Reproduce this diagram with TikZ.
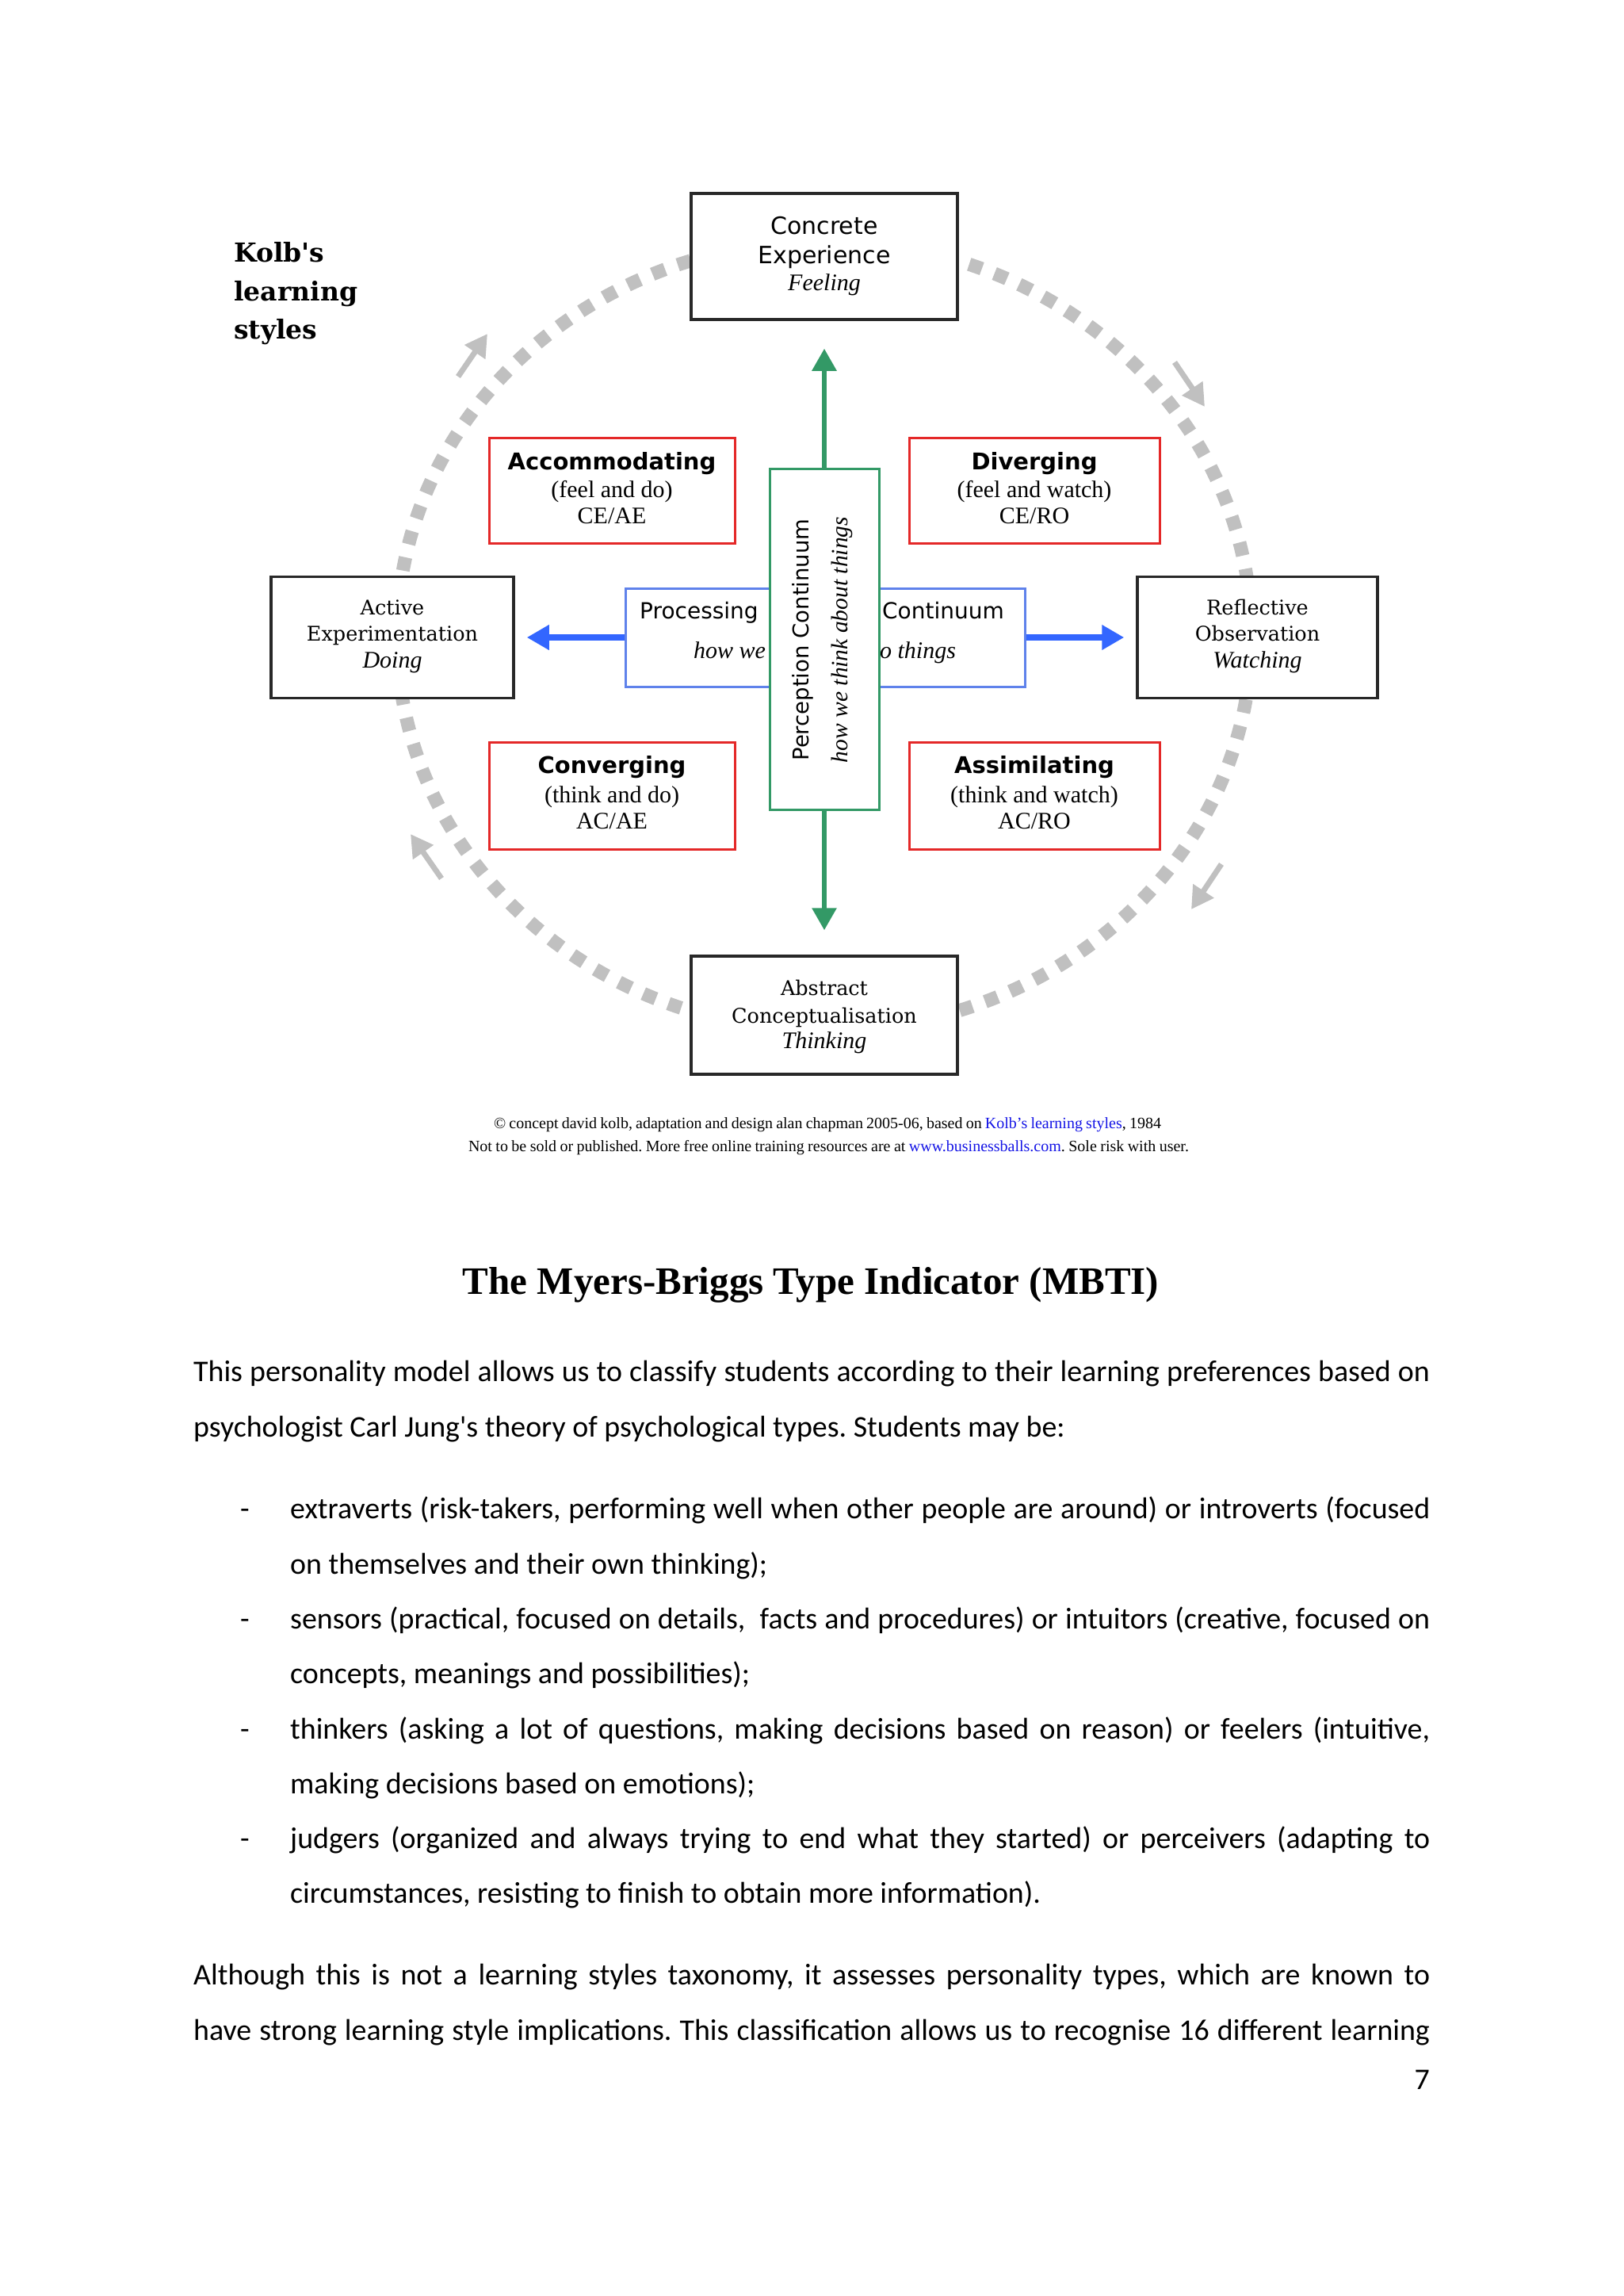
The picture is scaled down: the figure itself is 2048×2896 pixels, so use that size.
\documentclass[tikz,border=0pt]{standalone}
\usepackage{fontspec}
\setmainfont{Liberation Serif}
\newfontfamily\vsans{DejaVu Sans}
\newfontfamily\vserif{DejaVu Serif}
\newfontfamily\calib{Carlito}
\usetikzlibrary{arrows.meta}
\definecolor{kgreen}{RGB}{51,153,102}
\definecolor{kblue}{RGB}{51,102,255}
\definecolor{kbluebox}{RGB}{95,130,235}
\definecolor{kred}{RGB}{228,40,40}
\definecolor{kgray}{RGB}{192,192,192}
\definecolor{kdark}{RGB}{40,40,40}
\definecolor{klink}{RGB}{20,20,230}
\newcommand\fs[1]{\fontsize{#1pt}{#1pt}\selectfont}
\frenchspacing
\begin{document}
\begin{tikzpicture}[x=1pt,y=-1pt,
  kbox/.style={draw=kdark, line width=3.5pt, fill=white, inner sep=0pt},
  rbox/.style={draw=kred, line width=3pt, fill=white, inner sep=0pt},
  lab/.style={anchor=base, inner sep=0pt},
  labw/.style={anchor=base west, inner sep=0pt},
  dotring/.style={draw=kgray, line width=17pt, dash pattern=on 17pt off 17pt},
  garrow/.style={draw=kgray, line width=7pt, -{Triangle[length=28pt,width=30pt]}},
  grnarrow/.style={draw=kgreen, line width=6pt, -{Triangle[length=28pt,width=30pt]}},
  bluarrow/.style={draw=kblue, line width=8pt, -{Triangle[length=28pt,width=30pt]}},
  boxsans/.style={font=\vsans\fs{30}},
  boxbold/.style={font=\vsans\bfseries\fs{29}},
  boxserif/.style={font=\fs{30}},
  boxvserif/.style={font=\vserif\fs{25.5}},
  boxital/.style={font=\itshape\fs{30}},
  body/.style={labw, font=\calib\fs{37.9}}]
\fill[white] (0,0) rectangle (2048,2896);
\useasboundingbox (0,0) rectangle (2048,2896);

% dotted cycle
\draw[dotring] (1040,802) ellipse [x radius=539pt, y radius=498pt];
\coordinate (g1s) at (578,475); \coordinate (g1e) at (615,421);
\coordinate (g2s) at (1482,457); \coordinate (g2e) at (1520,513);
\coordinate (g3s) at (1541,1090); \coordinate (g3e) at (1503,1147);
\coordinate (g4s) at (557,1108); \coordinate (g4e) at (518,1052);
\draw[garrow] (g1s) -- (g1e);
\draw[garrow] (g2s) -- (g2e);
\draw[garrow] (g3s) -- (g3e);
\draw[garrow] (g4s) -- (g4e);

% title words
\node[labw, font=\vserif\bfseries\fs{33}] (k1) at (295,330) {Kolb's};
\node[labw, font=\vserif\bfseries\fs{33}] (k2) at (295,379) {learning};
\node[labw, font=\vserif\bfseries\fs{33}] (k3) at (295,427) {styles};

% outer boxes
\node[kbox, minimum width=336pt, minimum height=159pt] (ce) at (1040,323.5) {};
\node[kbox, minimum width=336pt, minimum height=149pt] (ac) at (1040,1280.5) {};
\node[kbox, minimum width=306pt, minimum height=153pt] (ae) at (495,804) {};
\node[kbox, minimum width=303pt, minimum height=153pt] (ro) at (1586.5,804) {};
\node[rbox, minimum width=310pt, minimum height=133pt] (acc) at (772,618.5) {};
\node[rbox, minimum width=316pt, minimum height=133pt] (div) at (1305,618.5) {};
\node[rbox, minimum width=310pt, minimum height=135pt] (con) at (772,1003.5) {};
\node[rbox, minimum width=316pt, minimum height=135pt] (ass) at (1305,1003.5) {};

% processing continuum
\node[draw=kbluebox, line width=3pt, fill=white, inner sep=0pt, minimum width=504pt, minimum height=124pt] (proc) at (1041,804) {};
\node[labw, font=\vsans\fs{28}] (pr1) at (807,780) {Processing};
\node[anchor=base east, inner sep=0pt, font=\vsans\fs{28}] (pr2) at (1267,780) {Continuum};
\node[lab, boxital] (pr3) at (1040.5,830) {\makebox[331pt]{how we\hfill do things}};

% perception continuum
\node[draw=kgreen, line width=3pt, fill=white, inner sep=0pt, minimum width=138pt, minimum height=430pt] (perc) at (1040,806) {};
\node[lab, rotate=90, font=\vsans\fs{27.5}] (pc1) at (1020,807) {Perception Continuum};
\node[lab, rotate=90, font=\itshape\fs{29.5}] (pc2) at (1069,807) {\makebox[310pt][s]{how we think about things}};

% arrows
\draw[grnarrow, shorten >=35pt] (perc.north) -- (ce.south);
\draw[grnarrow, shorten >=31pt] (perc.south) -- (ac.north);
\draw[bluarrow, shorten >=15pt] (proc.west) -- (proc.west -| ae.east);
\draw[bluarrow, shorten >=15pt] (proc.east) -- (proc.east -| ro.west);

% box texts
\node[lab, boxsans] (ce1) at (1040,295) {Concrete};
\node[lab, boxsans] (ce2) at (1040,332) {Experience};
\node[lab, boxital] (ce3) at (1040,366) {Feeling};

\node[lab, boxvserif] (ac1) at (1040,1255) {Abstract};
\node[lab, boxvserif] (ac2) at (1040,1290) {Conceptualisation};
\node[lab, boxital] (ac3) at (1040,1322) {Thinking};

\node[lab, boxvserif] (ae1) at (495,775) {Active};
\node[lab, boxvserif] (ae2) at (495,808) {Experimentation};
\node[lab, boxital] (ae3) at (495,842) {Doing};

\node[lab, boxvserif] (ro1) at (1586.5,775) {Reflective};
\node[lab, boxvserif] (ro2) at (1586.5,808) {Observation};
\node[lab, boxital] (ro3) at (1586.5,842) {Watching};

\node[lab, boxbold] (acc1) at (772,592) {Accommodating};
\node[lab, boxserif] (acc2) at (772,627) {(feel and do)};
\node[lab, boxserif] (acc3) at (772,660) {CE/AE};

\node[lab, boxbold] (div1) at (1305,592) {Diverging};
\node[lab, boxserif] (div2) at (1305,627) {(feel and watch)};
\node[lab, boxserif] (div3) at (1305,660) {CE/RO};

\node[lab, boxbold] (con1) at (772,975) {Converging};
\node[lab, boxserif] (con2) at (772,1012) {(think and do)};
\node[lab, boxserif] (con3) at (772,1045) {AC/AE};

\node[lab, boxbold] (ass1) at (1305,975) {Assimilating};
\node[lab, boxserif] (ass2) at (1305,1012) {(think and watch)};
\node[lab, boxserif] (ass3) at (1305,1045) {AC/RO};

% credits
\node[lab, font=\fs{20}] (fn1) at (1044,1423) {\makebox[842pt][s]{© concept david kolb, adaptation and design alan chapman 2005-06, based on \textcolor{klink}{Kolb's learning styles}, 1984}};
\node[lab, font=\fs{20}] (fn2) at (1045.5,1452) {\makebox[909pt][s]{Not to be sold or published. More free online training resources are at \textcolor{klink}{www.businessballs.com}. Sole risk with user.}};

% MBTI section
\node[lab, font=\bfseries\fs{49}] (title) at (1023,1632) {The Myers-Briggs Type Indicator (MBTI)};

\node[body] (p1a) at (244,1742) {\makebox[1560pt][s]{This personality model allows us to classify students according to their learning preferences based on}};
\node[body] (p1b) at (244,1812) {psychologist Carl Jung's theory of psychological types. Students may be:};

\node[body] (b1d) at (303,1915) {-};
\node[body] (b1a) at (366,1915) {\makebox[1438pt][s]{extraverts (risk-takers, performing well when other people are around) or introverts (focused}};
\node[body] (b1b) at (366,1985) {on themselves and their own thinking);};

\node[body] (b2d) at (303,2054) {-};
\node[body] (b2a) at (366,2054) {\makebox[1438pt][s]{sensors (practical, focused on details,~ facts and procedures) or intuitors (creative, focused on}};
\node[body] (b2b) at (366,2123) {concepts, meanings and possibilities);};

\node[body] (b3d) at (303,2193) {-};
\node[body] (b3a) at (366,2193) {\makebox[1438pt][s]{thinkers (asking a lot of questions, making decisions based on reason) or feelers (intuitive,}};
\node[body] (b3b) at (366,2262) {making decisions based on emotions);};

\node[body] (b4d) at (303,2331) {-};
\node[body] (b4a) at (366,2331) {\makebox[1438pt][s]{judgers (organized and always trying to end what they started) or perceivers (adapting to}};
\node[body] (b4b) at (366,2400) {circumstances, resisting to finish to obtain more information).};

\node[body] (p2a) at (244,2503) {\makebox[1560pt][s]{Although this is not a learning styles taxonomy, it assesses personality types, which are known to}};
\node[body] (p2b) at (244,2573) {\makebox[1560pt][s]{have strong learning style implications. This classification allows us to recognise 16 different learning}};

\node[anchor=base east, inner sep=0pt, font=\calib\fs{37.9}] (pg) at (1804,2635) {7};
\end{tikzpicture}
\end{document}
